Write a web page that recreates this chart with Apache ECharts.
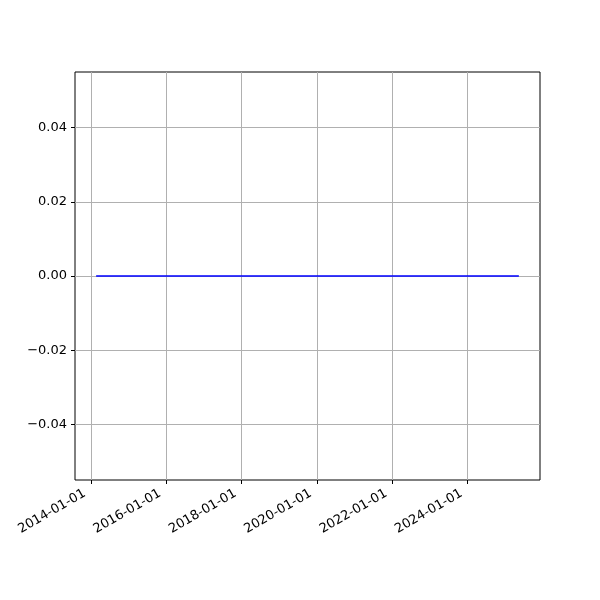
<!DOCTYPE html>
<html>
<head>
<meta charset="utf-8">
<script src="https://cdn.jsdelivr.net/npm/echarts@6/dist/echarts.min.js"></script>
<style>html,body{margin:0;padding:0;background:#fff}#c{width:600px;height:600px}</style>
</head>
<body>
<div id="c"></div>
<script>
const dates = ["2014-02-22", "2015-01-01", "2016-01-01", "2017-01-01", "2018-01-01", "2019-01-01", "2020-01-01", "2021-01-01", "2022-01-01", "2023-01-01", "2024-01-01", "2025-01-01", "2025-05-12"];
const values = [0, 0, 0, 0, 0, 0, 0, 0, 0, 0, 0, 0, 0];
const xTickLabels = ["2014-01-01", "2016-01-01", "2018-01-01", "2020-01-01", "2022-01-01", "2024-01-01"];
const yTicks = [-0.04, -0.02, 0.00, 0.02, 0.04];

const ts = d => Date.parse(d + "T00:00:00Z");
const xs = dates.map(ts);
const x0 = Math.min(...xs), x1 = Math.max(...xs);
const xm = (x1 - x0) * 0.05;
const xTickVals = xTickLabels.map(ts);

const chart = echarts.init(document.getElementById('c'), null, {renderer: 'canvas'});
const font = 'DejaVu Sans';
chart.setOption({
  animation: false,
  grid: {left: 75, right: 60, top: 72, bottom: 120, show: true, borderColor: '#000', borderWidth: 1, backgroundColor: 'transparent'},
  xAxis: {
    type: 'value', min: x0 - xm, max: x1 + xm,
    axisLine: {show: false, onZero: false},
    axisTick: {show: true, customValues: xTickVals, length: 4, lineStyle: {color: '#000', width: 1}},
    axisLabel: {
      customValues: xTickVals, rotate: 30, margin: 9, padding: [0, 7, 0, 0],
      fontFamily: font, fontSize: 13, color: '#000',
      formatter: v => { const i = xTickVals.indexOf(v); return i >= 0 ? xTickLabels[i] : ''; }
    },
    splitLine: {show: true, lineStyle: {color: '#b0b0b0', width: 1}}
  },
  yAxis: {
    type: 'value', min: -0.055, max: 0.055,
    axisLine: {show: false, onZero: false},
    axisTick: {show: true, customValues: yTicks, length: 4, lineStyle: {color: '#000', width: 1}},
    axisLabel: {
      customValues: yTicks, margin: 8,
      fontFamily: font, fontSize: 13, color: '#000',
      formatter: v => (v < 0 ? '\u2212' : '') + Math.abs(v).toFixed(2)
    },
    splitLine: {show: true, lineStyle: {color: '#b0b0b0', width: 1}}
  },
  series: [{
    type: 'line',
    data: xs.map((x, i) => [x, values[i]]),
    showSymbol: false,
    lineStyle: {color: '#0000ff', width: 1.5},
    itemStyle: {color: '#0000ff'}
  }]
});
</script>
</body>
</html>
